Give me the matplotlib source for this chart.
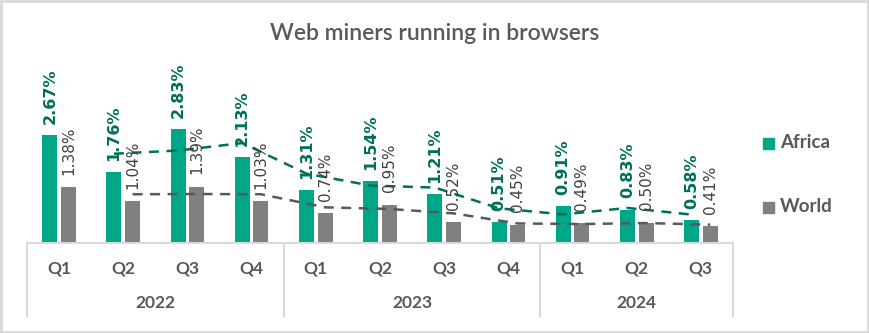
import numpy as np
import matplotlib
matplotlib.use('Agg')
import matplotlib.pyplot as plt
from matplotlib.patches import Rectangle

quarters = ['Q1', 'Q2', 'Q3', 'Q4', 'Q1', 'Q2', 'Q3', 'Q4', 'Q1', 'Q2', 'Q3']
years = ['2022', '2023', '2024']
year_sizes = [4, 4, 3]
africa = [2.67, 1.76, 2.83, 2.13, 1.31, 1.54, 1.21, 0.51, 0.91, 0.83, 0.58]
world = [1.38, 1.04, 1.39, 1.03, 0.74, 0.95, 0.52, 0.45, 0.49, 0.50, 0.41]

c_africa = '#00A688'
c_world = '#808080'
c_africa_dark = '#006F59'
c_text = '#595959'
c_grid = '#D9D9D9'

fig = plt.figure(figsize=(8.7, 3.33), dpi=100)
fig.patches.append(Rectangle((0.001, 0.002), 0.997, 0.995, transform=fig.transFigure,
                             fill=False, edgecolor=c_grid, linewidth=2))

# plot area in pixels: x 27..733, baseline y=243, top y=60
ax = fig.add_axes([27 / 870, 90 / 333, 706 / 870, 183 / 333])
ax.set_xlim(-0.5, 10.5)
ax.set_ylim(0, 183 / 40.3)
ax.axis('off')

x = np.arange(len(quarters))
w = 0.234
off = 0.145
ax.bar(x - off, africa, w, color=c_africa)
ax.bar(x + off, world, w, color=c_world)

# 2-period moving average trendlines
ma_a = [(africa[i - 1] + africa[i]) / 2 for i in range(1, len(africa))]
ma_w = [(world[i - 1] + world[i]) / 2 for i in range(1, len(world))]
ax.plot(x[1:] - off, ma_a, color=c_africa_dark, lw=1.8, dashes=(4, 3))
ax.plot(x[1:] + off, ma_w, color='#595959', lw=1.8, dashes=(4, 3))

for i in range(len(x)):
    ax.annotate(f'{africa[i]:.2f}%', (x[i] - off, africa[i]), xytext=(0, 8),
                textcoords='offset points', rotation=90, ha='center', va='bottom',
                fontsize=11.5, fontweight='bold', color=c_africa_dark)
    ax.annotate(f'{world[i]:.2f}%', (x[i] + off, world[i]), xytext=(0, 9),
                textcoords='offset points', rotation=90, ha='center', va='bottom',
                fontsize=11, color='#404040')

# multi-level category axis
tr = ax.get_xaxis_transform()
ybot = -73 / 183
ax.plot([-0.5, 10.5], [0, 0], color=c_grid, lw=1.5, transform=tr, clip_on=False)
edges = np.concatenate([[0], np.cumsum(year_sizes)]) - 0.5
for e in edges:
    ax.plot([e, e], [0, ybot], color=c_grid, lw=1.5, transform=tr, clip_on=False)
for i, q in enumerate(quarters):
    ax.text(i, -25 / 183, q, transform=tr, ha='center', va='center',
            fontsize=12.5, fontweight='bold', color=c_text, family='Lato')
for j, yr in enumerate(years):
    ax.text((edges[j] + edges[j + 1]) / 2, -60 / 183, yr, transform=tr, ha='center',
            va='center', fontsize=12.5, fontweight='bold', color=c_text, family='Lato')

fig.text(0.5, 1 - 34 / 333, 'Web miners running in browsers', ha='center', va='center',
         fontsize=16.5, color=c_text, family='Lato', fontweight='semibold')

# legend
for lab, col, yy in [('Africa', c_africa, 143), ('World', c_world, 207)]:
    fig.patches.append(Rectangle((763 / 870, 1 - (yy + 6) / 333), 11 / 870, 11 / 333,
                                 transform=fig.transFigure, color=col))
    fig.text(780 / 870, 1 - yy / 333, lab, ha='left', va='center', fontsize=13.5,
             fontweight='bold', color=c_text, family='Lato')

fig.savefig('out.png', dpi=100)
